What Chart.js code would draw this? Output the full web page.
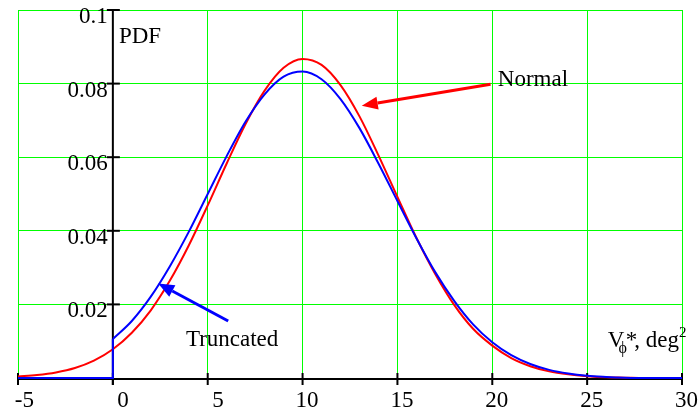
<!DOCTYPE html>
<html>
<head>
<meta charset="utf-8">
<title>PDF of V*</title>
<script src="https://cdn.jsdelivr.net/npm/chart.js@4/dist/chart.umd.min.js"></script>
<style>
    body { margin: 0; background: #fff; }
    #pdfChart { display: block; }
</style>
</head>
<body>
<canvas id="pdfChart" width="700" height="412"></canvas>
<script>
// Values
const xValues = [-5, -4, -3, -2, -1, 0, 1, 2, 3, 4, 5, 6, 7, 8, 9, 10, 11, 12,
    13, 14, 15, 16, 17, 18, 19, 20, 21, 22, 23, 24, 25, 26, 27, 28, 29, 30];
const normalPdf = [0.0004, 0.0008, 0.0015, 0.0027, 0.0047, 0.0078, 0.0123, 0.0184,
    0.0264, 0.0360, 0.0469, 0.0583, 0.0691, 0.0781, 0.0843, 0.0867, 0.0851, 0.0796,
    0.0711, 0.0605, 0.0492, 0.0381, 0.0282, 0.0198, 0.0133, 0.0088, 0.0054, 0.0032,
    0.0018, 0.0010, 0.0005, 0.0002, 0.0001, 0, 0, 0];

// Truncated PDF: zero left of 0, jumps at 0
const truncZeroX = [-5, 0, 0];
const truncZeroPdf = [0, 0, 0.0106];
const truncX = [0, 1, 2, 3, 4, 5, 6, 7, 8, 9, 10, 11, 12, 13, 14, 15, 16, 17,
    18, 19, 20, 21, 22, 23, 24, 25, 26, 27, 28, 29, 30];
const truncPdf = [0.0106, 0.0155, 0.0221, 0.0303, 0.0397, 0.0500, 0.0603, 0.0697,
    0.0771, 0.0819, 0.0833, 0.0812, 0.0758, 0.0679, 0.0583, 0.0481, 0.0380, 0.0287,
    0.0209, 0.0145, 0.0097, 0.0062, 0.0038, 0.0022, 0.0012, 0.0006, 0.0003, 0.0001,
    0, 0, 0];

// Tick labels
const xTickValues = [-5, 0, 5, 10, 15, 20, 25, 30];
const xTickLabels = ['-5', '0', '5', '10', '15', '20', '25', '30'];
const yTickValues = [0.02, 0.04, 0.06, 0.08, 0.1];
const yTickLabels = ['0.02', '0.04', '0.06', '0.08', '0.1'];

const FONT = '"Liberation Serif", "Times New Roman", serif';

function toPoints(xs, ys) {
    return xs.map((v, i) => ({ x: v, y: ys[i] }));
}

function drawLine(ctx, x1, y1, x2, y2) {
    ctx.beginPath();
    ctx.moveTo(x1, y1);
    ctx.lineTo(x2, y2);
    ctx.stroke();
}

// Arrow with filled head at (x2, y2)
function drawArrow(ctx, x1, y1, x2, y2, color) {
    const ang = Math.atan2(y2 - y1, x2 - x1);
    const len = 16, half = 6.5;
    const bx = x2 - len * Math.cos(ang), by = y2 - len * Math.sin(ang);
    ctx.strokeStyle = color;
    ctx.fillStyle = color;
    ctx.lineWidth = 3;
    drawLine(ctx, x1, y1, bx, by);
    ctx.beginPath();
    ctx.moveTo(x2, y2);
    ctx.lineTo(bx + half * Math.sin(ang), by - half * Math.cos(ang));
    ctx.lineTo(bx - half * Math.sin(ang), by + half * Math.cos(ang));
    ctx.closePath();
    ctx.fill();
}

// Black axes through 0 with crossing ticks, drawn under the curves
const axesPlugin = {
    id: 'mathcadAxes',
    beforeDatasetsDraw(chart) {
        const { ctx, scales: { x, y } } = chart;
        const x0 = x.getPixelForValue(0);
        const y0 = y.getPixelForValue(0);
        ctx.save();
        ctx.strokeStyle = '#000';
        ctx.lineWidth = 2;
        drawLine(ctx, x.left, y0 + 1, x.right, y0 + 1);
        drawLine(ctx, x0, y.top, x0, y0 + 7);
        xTickValues.forEach(v => {
            const px = x.getPixelForValue(v);
            drawLine(ctx, px, y0 - 5, px, y0 + 7);
        });
        yTickValues.forEach(v => {
            const py = y.getPixelForValue(v);
            drawLine(ctx, x0 - 6, py, x0 + 7, py);
        });
        ctx.restore();
    },
    afterDraw(chart) {
        const { ctx, scales: { x, y } } = chart;
        const x0 = x.getPixelForValue(0);
        const y0 = y.getPixelForValue(0);
        ctx.save();
        ctx.fillStyle = '#000';
        ctx.font = '23px ' + FONT;
        ctx.textBaseline = 'alphabetic';

        // tick labels
        ctx.textAlign = 'right';
        xTickValues.forEach((v, i) => {
            ctx.fillText(xTickLabels[i], x.getPixelForValue(v) + 16, y0 + 29);
        });
        yTickValues.forEach((v, i) => {
            ctx.fillText(yTickLabels[i], x0 - 5, y.getPixelForValue(v) + 13);
        });

        // axis names
        ctx.textAlign = 'left';
        ctx.fillText('PDF', x.getPixelForValue(0.32), y.getPixelForValue(0.091));

        let lx = x.getPixelForValue(26.09);
        const ly = y.getPixelForValue(0.0084);
        ctx.fillText('V', lx, ly);
        lx += ctx.measureText('V').width - 6;
        ctx.font = '16px ' + FONT;
        ctx.fillText('\u03D5', lx, ly + 6);
        lx += ctx.measureText('\u03D5').width - 1;
        ctx.font = '23px ' + FONT;
        ctx.fillText('*', lx, ly);
        lx += ctx.measureText('*').width - 3;
        ctx.fillText(', deg', lx, ly);
        lx += ctx.measureText(', deg').width;
        ctx.font = '15px ' + FONT;
        ctx.fillText('2', lx, ly - 10);

        // annotations
        ctx.font = '23px ' + FONT;
        ctx.fillText('Normal', x.getPixelForValue(20.29), y.getPixelForValue(0.0794));
        drawArrow(ctx, x.getPixelForValue(19.91), y.getPixelForValue(0.0798),
            x.getPixelForValue(13.12), y.getPixelForValue(0.0740), '#ff0000');

        ctx.fillStyle = '#000';
        ctx.fillText('Truncated', x.getPixelForValue(3.85), y.getPixelForValue(0.0087));
        drawArrow(ctx, x.getPixelForValue(6.08), y.getPixelForValue(0.0155),
            x.getPixelForValue(2.39), y.getPixelForValue(0.0257), '#0000ff');
        ctx.restore();
    }
};

function generatePdfChart() {
    const ctx = document.getElementById('pdfChart').getContext('2d');

    new Chart(ctx, {
        type: 'line',
        data: {
            datasets: [{
                label: 'Truncated',
                data: toPoints(truncX, truncPdf),
                borderColor: '#0000ff',
                borderWidth: 2,
                cubicInterpolationMode: 'monotone',
                pointRadius: 0,
                clip: 6
            }, {
                label: 'Truncated (x < 0)',
                data: toPoints(truncZeroX, truncZeroPdf),
                borderColor: '#0000ff',
                borderWidth: 2,
                tension: 0,
                pointRadius: 0,
                clip: 6
            }, {
                label: 'Normal',
                data: toPoints(xValues, normalPdf),
                borderColor: '#ff0000',
                borderWidth: 2,
                cubicInterpolationMode: 'monotone',
                pointRadius: 0,
                clip: 6
            }]
        },
        options: {
            responsive: false,
            animation: false,
            devicePixelRatio: 1,
            layout: { padding: { left: 18, right: 18, top: 10, bottom: 34 } },
            plugins: {
                legend: { display: false },
                tooltip: { enabled: false }
            },
            scales: {
                x: {
                    type: 'linear',
                    min: -5,
                    max: 30,
                    ticks: { display: false, stepSize: 5 },
                    grid: { color: '#00ff00', lineWidth: 1, drawTicks: false },
                    border: { display: false }
                },
                y: {
                    type: 'linear',
                    min: 0,
                    max: 0.1,
                    ticks: { display: false, stepSize: 0.02 },
                    grid: { color: '#00ff00', lineWidth: 1, drawTicks: false },
                    border: { display: false }
                }
            }
        },
        plugins: [axesPlugin]
    });
}

document.addEventListener('DOMContentLoaded', function () {
    generatePdfChart();
});
</script>
</body>
</html>
